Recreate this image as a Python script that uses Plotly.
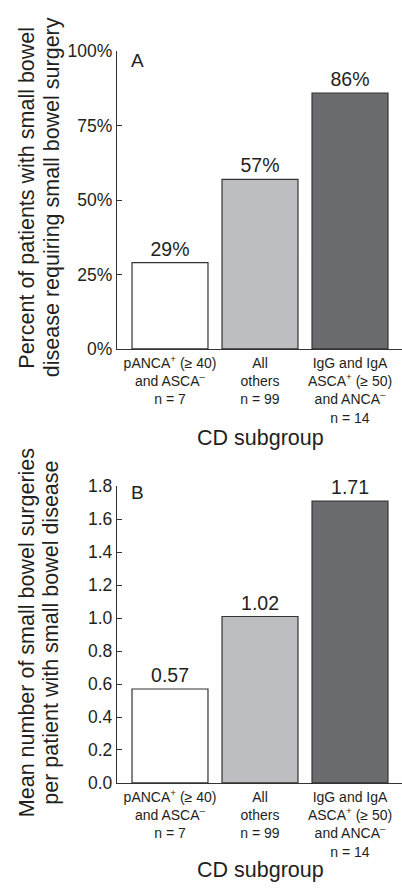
import plotly.graph_objects as go

# ---- data ----
categories = [
    "pANCA<sup>+</sup> (≥ 40)<br>and ASCA<sup>–</sup><br>n = 7",
    "All<br>others<br>n = 99",
    "IgG and IgA<br>ASCA<sup>+</sup> (≥ 50)<br>and ANCA<sup>–</sup><br>n = 14",
]
pct_surgery = [29, 57, 86]
pct_labels = ["29%", "57%", "86%"]
mean_surgeries = [0.57, 1.01, 1.71]
mean_labels = ["0.57", "1.02", "1.71"]
pct_ticks = [0, 25, 50, 75, 100]
mean_ticks = [0.0, 0.2, 0.4, 0.6, 0.8, 1.0, 1.2, 1.4, 1.6, 1.8]
title_a = ["Percent of patients with small bowel", "disease requiring small bowel surgery"]
title_b = ["Mean number of small bowel surgeries", "per patient with small bowel disease"]
x_title = "CD subgroup"

bar_colors = ["#ffffff", "#bdbec1", "#6b6c70"]
FONT = "Liberation Sans, Arial, Helvetica, sans-serif"
INK = "#231f20"

W, H = 402, 890


def px(x):
    return x / W


def py(y):
    return 1 - y / H


xpos = [0, 1, 2]

fig = go.Figure()
for vals, labs, xa, ya in [(pct_surgery, pct_labels, "x", "y"),
                           (mean_surgeries, mean_labels, "x2", "y2")]:
    fig.add_trace(go.Bar(
        x=xpos, y=vals, text=labs, textposition="outside",
        width=0.844, marker=dict(color=bar_colors, line=dict(color="#333333", width=1.2)),
        textfont=dict(size=19.5, color=INK, family=FONT), cliponaxis=False,
        xaxis=xa, yaxis=ya, showlegend=False, hoverinfo="skip",
    ))

xdom = [px(117), 1.0]
ydomA = [py(346.7), py(42.3)]
ydomB = [py(790.7), py(487.3)]
# category 0 centred at 170px, categories 90px apart
x_lo = -(170 - 117) / 90
x_hi = x_lo + (W - 117) / 90

xcommon = dict(
    domain=xdom, range=[x_lo, x_hi], tickmode="array", tickvals=xpos,
    ticktext=categories, ticks="", showline=True, linecolor="#333333", linewidth=1.2,
    showgrid=False, zeroline=False, tickfont=dict(size=14, color=INK, family=FONT),
    ticklabelstandoff=1, fixedrange=True,
)
ycommon = dict(
    ticks="inside", ticklen=5, tickcolor="#333333", showline=True, linecolor="#333333",
    linewidth=1.2, showgrid=False, zeroline=False,
    tickfont=dict(size=17.5, color=INK, family=FONT), fixedrange=True,
)

fig.update_layout(
    width=W, height=H,
    margin=dict(l=0, r=0, t=0, b=0),
    paper_bgcolor="white", plot_bgcolor="white",
    font=dict(family=FONT, color=INK),
    xaxis=dict(anchor="y", **xcommon),
    yaxis=dict(domain=ydomA, range=[0, 100], tickvals=pct_ticks,
               ticktext=[f"{t}%" for t in pct_ticks], anchor="x", **ycommon),
    xaxis2=dict(anchor="y2", **xcommon),
    yaxis2=dict(domain=ydomB, range=[0, 1.8], tickvals=mean_ticks,
                ticktext=[f"{t:.1f}" for t in mean_ticks], anchor="x2", **ycommon),
)

ann_font = dict(family=FONT, color=INK, size=21.5)
annotations = []
for lines, yc in [(title_a, 192), (title_b, 637.5)]:
    for line, xc in zip(lines, [27, 51.5]):
        annotations.append(dict(text=line, x=px(xc), y=py(yc), textangle=-90))
annotations.append(dict(text=x_title, x=px(260), y=py(437.5)))
annotations.append(dict(text=x_title, x=px(260), y=py(880)))
for a in annotations:
    fig.add_annotation(xref="paper", yref="paper", xanchor="center", yanchor="middle",
                       showarrow=False, font=ann_font, **a)

for lbl, yy in [("A", 52), ("B", 494)]:
    fig.add_annotation(text=lbl, xref="paper", yref="paper", x=px(137), y=py(yy),
                       xanchor="center", yanchor="middle", showarrow=False,
                       font=dict(family=FONT, color=INK, size=19))

fig.write_html("out.html", config={"displayModeBar": False, "staticPlot": True},
               post_script="document.documentElement.style.margin='0px';"
                           "document.body.style.margin='0px';"
                           "document.body.style.padding='0px';")
